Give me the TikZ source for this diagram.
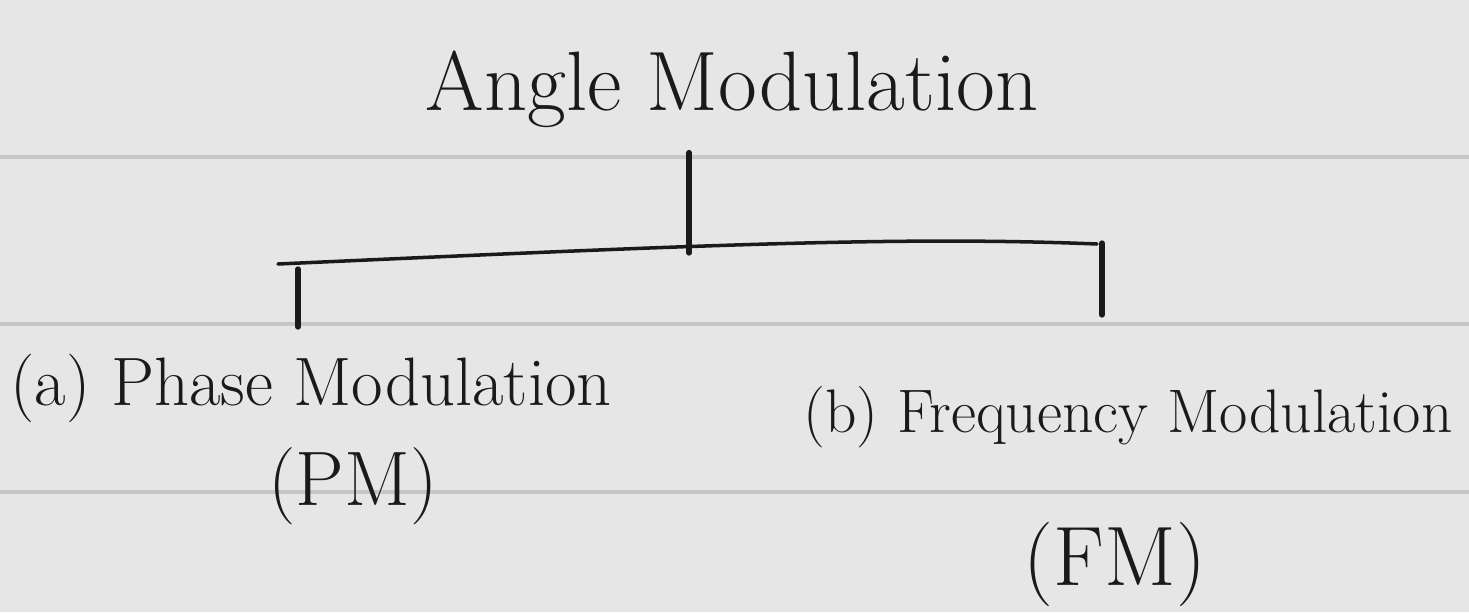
\documentclass[tikz,border=0pt]{standalone}
\usepackage{tikz}
\usetikzlibrary{positioning,calc}
\definecolor{paper}{HTML}{E6E6E6}
\definecolor{ruleline}{HTML}{C6C6C6}
\definecolor{ink}{HTML}{1A1A1A}

\begin{document}
\begin{tikzpicture}[x=0.02cm, y=-0.02cm,
  hand/.style={inner sep=0pt, anchor=base, text=ink},
  stem/.style={draw=ink, line width=3pt, line cap=round},
  bar/.style={draw=ink, line width=2pt, line cap=round},
  ruled/.style={draw=ruleline, line width=1.8pt}
]
  % lined paper
  \path[use as bounding box, fill=paper] (0,0) rectangle (1469,612);
  \foreach \y in {157,324,492}
    \draw[ruled] (0,\y) -- (1469,\y);

  \node[hand, font=\fontsize{48}{54}\selectfont] (title) at (732,110) {Angle Modulation};
  \node[hand, font=\fontsize{39}{45}\selectfont] (pm) at (311,405) {(a) Phase Modulation};
  \node[hand, font=\fontsize{44}{50}\selectfont] (pmabbr) at (353,505) {(PM)};
  \node[hand, font=\fontsize{35}{41}\selectfont] (fm) at (1128,432) {(b) Frequency Modulation};
  \node[hand, font=\fontsize{48}{54}\selectfont] (fmabbr) at (1115,585) {(FM)};

  \coordinate (hub) at (689,247);
  \coordinate (brL) at (278,264);
  \coordinate (brR) at (1097,244);
  \coordinate (dropA) at (298,269);
  \coordinate (dropAend) at (298,327);
  \coordinate (dropB) at (1102,243);
  \coordinate (dropBend) at (1102,315);

  \draw[stem] ($(title.south -| hub)+(0,25)$) -- ($(hub)+(0,6)$);
  \draw[bar] (brL) .. controls (700,245) and (900,236) .. (brR);
  \draw[stem] (dropA) -- (dropAend);
  \draw[stem] (dropB) -- (dropBend);
\end{tikzpicture}
\end{document}
